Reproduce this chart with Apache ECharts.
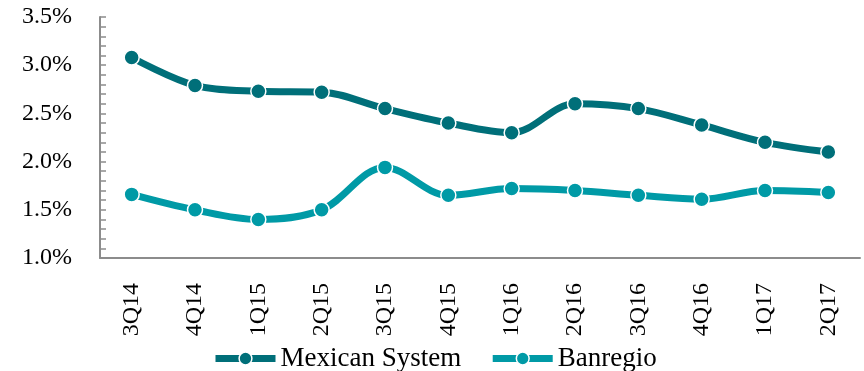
<!DOCTYPE html>
<html>
<head>
<meta charset="utf-8">
<script src="https://cdn.jsdelivr.net/npm/echarts@6/dist/echarts.min.js"></script>
<style>
  html, body { margin: 0; padding: 0; background: #fff; }
  #chart { width: 864px; height: 371px; }
</style>
</head>
<body>
<div id="chart"></div>
<script>
// Quarterly ratio (%) by period
const quarters = ['3Q14', '4Q14', '1Q15', '2Q15', '3Q15', '4Q15', '1Q16', '2Q16', '3Q16', '4Q16', '1Q17', '2Q17'];
const mexicanSystem = [3.08, 2.79, 2.73, 2.72, 2.55, 2.40, 2.30, 2.60, 2.55, 2.38, 2.20, 2.10];
const banregio = [1.66, 1.50, 1.40, 1.50, 1.94, 1.65, 1.72, 1.70, 1.65, 1.61, 1.70, 1.68];

const FONT = '"Liberation Serif", "DejaVu Serif", serif';
const DARK = '#006F79';
const LIGHT = '#009AA6';
const AXIS = '#8C8C8C';

const chart = echarts.init(document.getElementById('chart'), null, { renderer: 'canvas' });

function lineSeries(name, data, color) {
  return {
    name: name,
    type: 'line',
    data: data,
    smooth: 0.35,
    symbol: 'circle',
    symbolSize: 15,
    lineStyle: { width: 7, color: color },
    itemStyle: { color: color, borderColor: '#ffffff', borderWidth: 1.5 },
    emphasis: { disabled: true }
  };
}

chart.setOption({
  animation: false,
  backgroundColor: '#ffffff',
  grid: { left: 100, right: 4, top: 17, bottom: 113 },
  legend: {
    left: 207,
    top: 340,
    itemWidth: 60,
    itemHeight: 16,
    itemGap: 28,
    lineStyle: { width: 7 },
    itemStyle: { borderColor: '#ffffff', borderWidth: 1.5 },
    textStyle: { fontFamily: FONT, fontSize: 27, color: '#000' },
    data: ['Mexican System', 'Banregio']
  },
  xAxis: {
    type: 'category',
    data: quarters,
    boundaryGap: true,
    axisLine: { lineStyle: { color: AXIS, width: 2 } },
    axisTick: { inside: true, length: 6, lineStyle: { color: AXIS, width: 1.5 } },
    axisLabel: {
      rotate: 90,
      margin: 25,
      fontFamily: FONT,
      fontSize: 24,
      color: '#000'
    },
    splitLine: { show: false }
  },
  yAxis: {
    type: 'value',
    min: 1.0,
    max: 3.5,
    interval: 0.5,
    axisLine: { show: true, lineStyle: { color: AXIS, width: 2 } },
    axisTick: { show: true, inside: true, length: 6, lineStyle: { color: AXIS, width: 1.5 } },
    minorTick: { show: true, splitNumber: 5, length: 6, lineStyle: { color: AXIS, width: 1.5 } },
    axisLabel: {
      margin: 28,
      fontFamily: FONT,
      fontSize: 24,
      color: '#000',
      formatter: v => v.toFixed(1) + '%'
    },
    splitLine: { show: false },
    minorSplitLine: { show: false }
  },
  series: [
    lineSeries('Mexican System', mexicanSystem, DARK),
    lineSeries('Banregio', banregio, LIGHT)
  ]
});
</script>
</body>
</html>
